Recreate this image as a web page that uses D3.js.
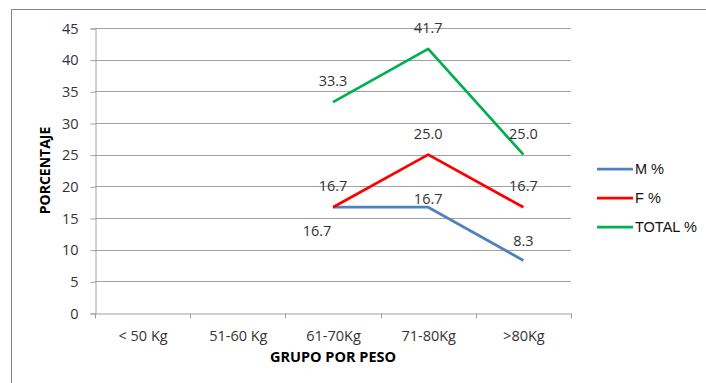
<!DOCTYPE html>
<html>
<head>
<meta charset="utf-8">
<script src="https://cdn.jsdelivr.net/npm/d3@7"></script>
<style>
  html, body { margin: 0; padding: 0; background: #fff; }
  svg { display: block; }
</style>
</head>
<body>
<svg id="chart" width="706" height="383"></svg>
<script>
// Weight groups and the share of each group, per sex and overall
const categories = ["< 50 Kg", "51-60 Kg", "61-70Kg", "71-80Kg", ">80Kg"];
const mValues = [null, null, 16.7, 16.7, 8.3];
const fValues = [null, null, 16.7, 25.0, 16.7];
const totalValues = [null, null, 33.3, 41.7, 25.0];
const seriesNames = ["M %", "F %", "TOTAL %"];
const yTicks = [0, 5, 10, 15, 20, 25, 30, 35, 40, 45];

const series = [
  { name: seriesNames[0], values: mValues, color: "#4F81BD",
    // label placement for each point, relative to the point
    offsets: [null, null, [-16, 24], [0, -8], [0, -20]] },
  { name: seriesNames[1], values: fValues, color: "#FF0000",
    offsets: [null, null, [0, -21], [0, -21], [0, -21]] },
  { name: seriesNames[2], values: totalValues, color: "#00B050",
    offsets: [null, null, [0, -21], [0, -21], [0, -21]] }
];

const svg = d3.select("#chart");
const plot = { left: 95, right: 571, top: 28, bottom: 313 };
const tickFont = "'Open Sans', 'DejaVu Sans', sans-serif";
const tickSize = 14.5;

// chart frame
svg.append("rect")
  .attr("x", 11.5).attr("y", 9.5)
  .attr("width", 720).attr("height", 400)
  .attr("fill", "#fff")
  .attr("stroke", "#868686").attr("stroke-width", 1);

const x = d3.scaleBand().domain(categories).range([plot.left, plot.right]);
const y = d3.scaleLinear().domain([0, 45]).range([plot.bottom, plot.top]);

// horizontal gridlines
svg.append("g")
  .selectAll("line")
  .data(yTicks.filter(t => t > 0))
  .join("line")
  .attr("x1", plot.left).attr("x2", plot.right)
  .attr("y1", d => Math.round(y(d)) + 0.5).attr("y2", d => Math.round(y(d)) + 0.5)
  .attr("stroke", "#A0A0A0").attr("stroke-width", 1);

// y axis
const yAxis = svg.append("g")
  .attr("transform", `translate(${plot.left + 0.5},0.5)`)
  .call(d3.axisLeft(y).tickValues(yTicks).tickSize(5).tickPadding(12));
yAxis.select(".domain").attr("stroke", "#A0A0A0");
yAxis.selectAll(".tick line").attr("stroke", "#A0A0A0");
yAxis.selectAll(".tick text")
  .attr("font-family", tickFont).attr("font-size", tickSize).attr("fill", "#333");

// x axis with ticks at the category boundaries
const xAxis = svg.append("g")
  .attr("transform", `translate(0.5,${plot.bottom + 0.5})`)
  .call(d3.axisBottom(x).tickSize(0).tickPadding(17));
xAxis.select(".domain").attr("stroke", "#A0A0A0");
xAxis.selectAll(".tick text")
  .attr("font-family", tickFont).attr("font-size", tickSize).attr("fill", "#333");
xAxis.append("g")
  .selectAll("line")
  .data(categories.map(c => x(c)).concat([x(categories[categories.length - 1]) + x.bandwidth()]))
  .join("line")
  .attr("x1", d => Math.round(d)).attr("x2", d => Math.round(d))
  .attr("y1", 0).attr("y2", 5)
  .attr("stroke", "#A0A0A0");

// axis titles
svg.append("text")
  .attr("transform", `translate(50,${(plot.top + plot.bottom) / 2}) rotate(-90)`)
  .attr("text-anchor", "middle")
  .attr("font-family", tickFont).attr("font-weight", "bold").attr("font-size", 14)
  .attr("fill", "#000")
  .text("PORCENTAJE");

svg.append("text")
  .attr("x", (plot.left + plot.right) / 2).attr("y", 362)
  .attr("text-anchor", "middle")
  .attr("font-family", tickFont).attr("font-weight", "bold").attr("font-size", 14.5)
  .attr("fill", "#000")
  .text("GRUPO POR PESO");

// series lines
const cx = c => x(c) + x.bandwidth() / 2;
const line = d3.line()
  .defined(d => d.v != null)
  .x(d => cx(d.c))
  .y(d => y(d.v));

series.forEach(s => {
  const pts = categories.map((c, i) => ({ c, v: s.values[i], off: s.offsets[i] }));
  svg.append("path")
    .datum(pts)
    .attr("d", line)
    .attr("fill", "none")
    .attr("stroke", s.color)
    .attr("stroke-width", 2.75)
    .attr("stroke-linejoin", "round");
});

// value labels
series.forEach(s => {
  const pts = categories.map((c, i) => ({ c, v: s.values[i], off: s.offsets[i] }))
    .filter(d => d.v != null);
  svg.append("g")
    .selectAll("text")
    .data(pts)
    .join("text")
    .attr("x", d => cx(d.c) + d.off[0])
    .attr("y", d => y(d.v) + d.off[1])
    .attr("dy", "0.36em")
    .attr("text-anchor", "middle")
    .attr("font-family", tickFont).attr("font-size", tickSize)
    .attr("fill", "#333")
    .text(d => d.v.toFixed(1));
});

// legend
const legend = svg.append("g").attr("transform", "translate(597,169)");
series.forEach((s, i) => {
  const g = legend.append("g").attr("transform", `translate(0,${i * 29})`);
  g.append("line")
    .attr("x1", 0).attr("x2", 36).attr("y1", 0).attr("y2", 0)
    .attr("stroke", s.color).attr("stroke-width", 2.75);
  g.append("text")
    .attr("x", 38).attr("y", 0).attr("dy", "0.36em")
    .attr("font-family", "'Liberation Sans', Arial, sans-serif")
    .attr("font-size", 14.5).attr("fill", "#111")
    .text(s.name);
});
</script>
</body>
</html>
